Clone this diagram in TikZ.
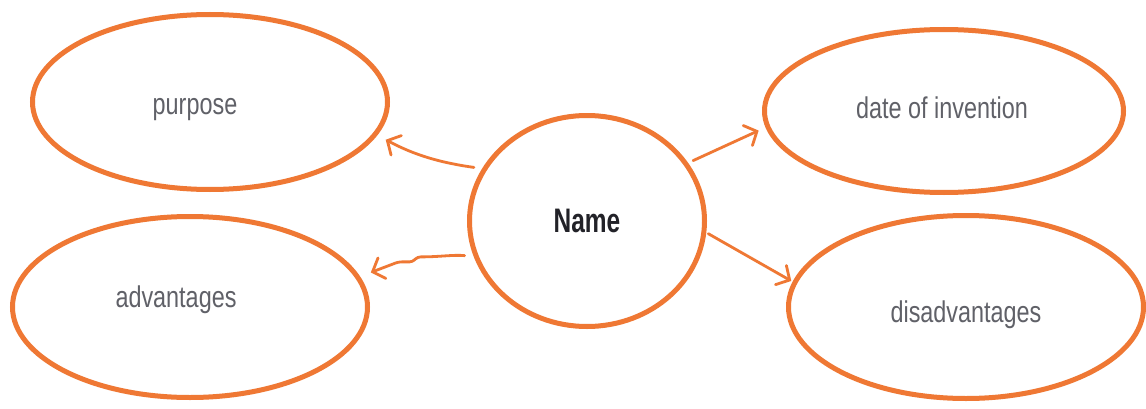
\documentclass[tikz,border=0pt]{standalone}
\usepackage{fontspec}
\setmainfont{Liberation Sans}
\usetikzlibrary{shapes.geometric,arrows.meta}
\definecolor{org}{RGB}{239,120,52}
\definecolor{txt}{RGB}{96,97,104}
\definecolor{dark}{RGB}{34,34,40}
\newcommand{\cond}[1]{\scalebox{0.78}[1]{#1}}
\newcommand{\condb}[1]{\scalebox{0.72}[1]{#1}}
\tikzset{
  bubble/.style={ellipse, draw=org, line width=5pt, inner sep=0pt, outer sep=0pt},
  lbl/.style={text=txt, font=\fontsize{30}{36}\selectfont},
  arr/.style={draw=org, line width=2.8pt, line cap=round, line join=round,
    -{Straight Barb[length=10pt,width=22pt,line cap=round]}}
}
\begin{document}
\begin{tikzpicture}[x=1pt,y=1pt]
\useasboundingbox[fill=white] (0,0) rectangle (1146,408);
\node[bubble, minimum width=355pt, minimum height=175pt,
  label={[lbl, xshift=-15pt, yshift=-8pt]center:\cond{purpose}}] (purpose) at (210,306) {};
\node[bubble, minimum width=355pt, minimum height=181pt,
  label={[lbl, xshift=-14pt, yshift=7pt]center:\cond{advantages}}] (adv) at (190,101) {};
\node[bubble, minimum width=235pt, minimum height=211pt,
  label={[text=dark, font=\fontsize{34}{40}\selectfont\bfseries]center:\condb{Name}}] (name) at (587,187) {};
\node[bubble, minimum width=359pt, minimum height=163pt,
  label={[lbl, xshift=-2pt, yshift=3pt]center:\cond{date of invention}}] (date) at (944,297) {};
\node[bubble, minimum width=355pt, minimum height=183pt,
  label={[lbl, xshift=0pt, yshift=-8pt]center:\cond{disadvantages}}] (disadv) at (966,101) {};

\draw[arr, shorten <=11pt, shorten >=12pt] (name.153) to[out=172,in=-28] (purpose.-11);
\draw[arr, shorten <=12pt, shorten >=14pt, rounded corners=3pt]
  (name.198) to[out=174,in=0] ++(-59,0) -- ++(-5,-5) -- ++(-14,0) -- (adv.10);
\draw[arr, shorten <=8pt, shorten >=10pt] (name.30) -- (date.185);
\draw[arr, shorten <=5pt, shorten >=4pt] (name.-5) -- (disadv.172);
\end{tikzpicture}
\end{document}
